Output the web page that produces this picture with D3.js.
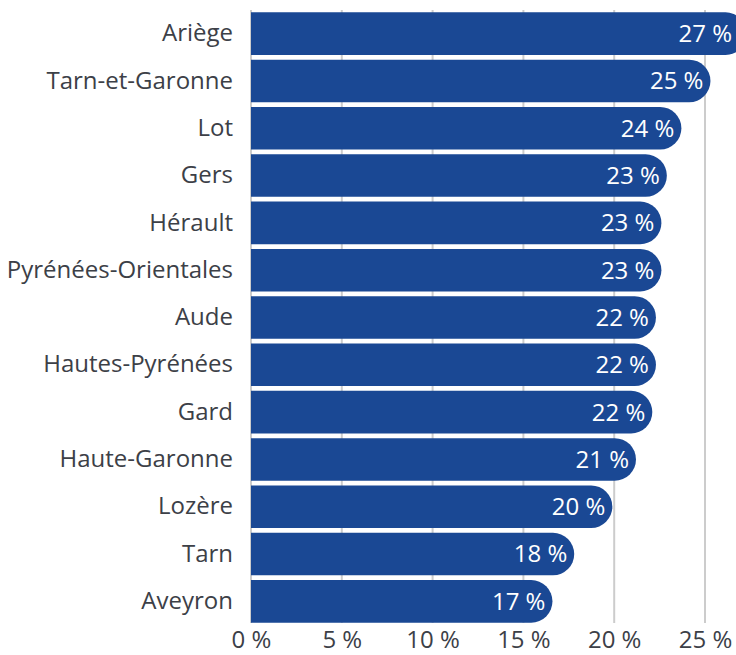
<!DOCTYPE html>
<html>
<head>
<meta charset="utf-8">
<script src="https://cdn.jsdelivr.net/npm/d3@7"></script>
<style>
  body { margin: 0; background: #fff; }
  text { font-family: "Open Sans", sans-serif; }
</style>
</head>
<body>
<div id="chart"></div>
<script>
const departements = ["Ariège", "Tarn-et-Garonne", "Lot", "Gers", "Hérault", "Pyrénées-Orientales",
  "Aude", "Hautes-Pyrénées", "Gard", "Haute-Garonne", "Lozère", "Tarn", "Aveyron"];
const values = [27.3, 25.3, 23.7, 22.9, 22.6, 22.6, 22.3, 22.3, 22.1, 21.2, 19.9, 17.8, 16.6];
const ticks = [0, 5, 10, 15, 20, 25];

const width = 736;
const height = 655;
const marginLeft = 251;
const marginTop = 10;
const plotBottom = 625;
const fontSize = "24px";

const svg = d3.select("#chart")
  .append("svg")
    .attr("width", width)
    .attr("height", height);

const x_scale = d3.scaleLinear()
  .domain([0, 25])
  .range([marginLeft, 705]);

const y_scale = d3.scaleBand()
  .domain(departements)
  .range([marginTop, plotBottom])
  .paddingInner(0.1)
  .paddingOuter(0.05);

// gridlines
svg.append("g")
  .selectAll("line")
  .data(ticks)
  .enter()
  .append("line")
    .attr("x1", d => x_scale(d))
    .attr("x2", d => x_scale(d))
    .attr("y1", marginTop)
    .attr("y2", plotBottom - 2)
    .attr("stroke", "#cccccc")
    .attr("stroke-width", 2);

// x axis labels
const x_axis = d3.axisBottom(x_scale)
  .tickValues(ticks)
  .tickSize(0)
  .tickPadding(6)
  .tickFormat(d => d + " %");

svg.append("g")
  .attr("transform", `translate(0, ${plotBottom})`)
  .call(x_axis)
  .call(g => g.select(".domain").remove())
  .selectAll("text")
    .style("font-size", fontSize)
    .style("fill", "#3c4047")
    .style("font-family", "'Open Sans', sans-serif");

// category labels
const y_axis = d3.axisLeft(y_scale)
  .tickSize(0)
  .tickPadding(18);

svg.append("g")
  .attr("transform", `translate(${marginLeft}, 0)`)
  .call(y_axis)
  .call(g => g.select(".domain").remove())
  .selectAll("text")
    .style("font-size", fontSize)
    .style("fill", "#3c4047")
    .style("font-family", "'Open Sans', sans-serif");

// bars, square on the left, round on the right
function barPath(v, dep) {
  const x0 = x_scale(0);
  const x1 = x_scale(v);
  const y0 = y_scale(dep);
  const h = y_scale.bandwidth();
  const r = h / 2;
  return `M${x0},${y0} H${x1 - r} A${r},${r} 0 0 1 ${x1 - r},${y0 + h} H${x0} Z`;
}

const rows = departements.map((d, i) => ({ dep: d, value: values[i] }));

svg.append("g")
  .selectAll("path")
  .data(rows)
  .enter()
  .append("path")
    .attr("d", d => barPath(d.value, d.dep))
    .attr("fill", "#1a4894");

svg.append("g")
  .selectAll("text")
  .data(rows)
  .enter()
  .append("text")
    .attr("x", d => Math.min(x_scale(d.value) - 7, width - 4))
    .attr("y", d => y_scale(d.dep) + y_scale.bandwidth() / 2)
    .attr("dy", "0.35em")
    .attr("text-anchor", "end")
    .style("font-size", fontSize)
    .style("fill", "#ffffff")
    .text(d => Math.round(d.value) + " %");
</script>
</body>
</html>
